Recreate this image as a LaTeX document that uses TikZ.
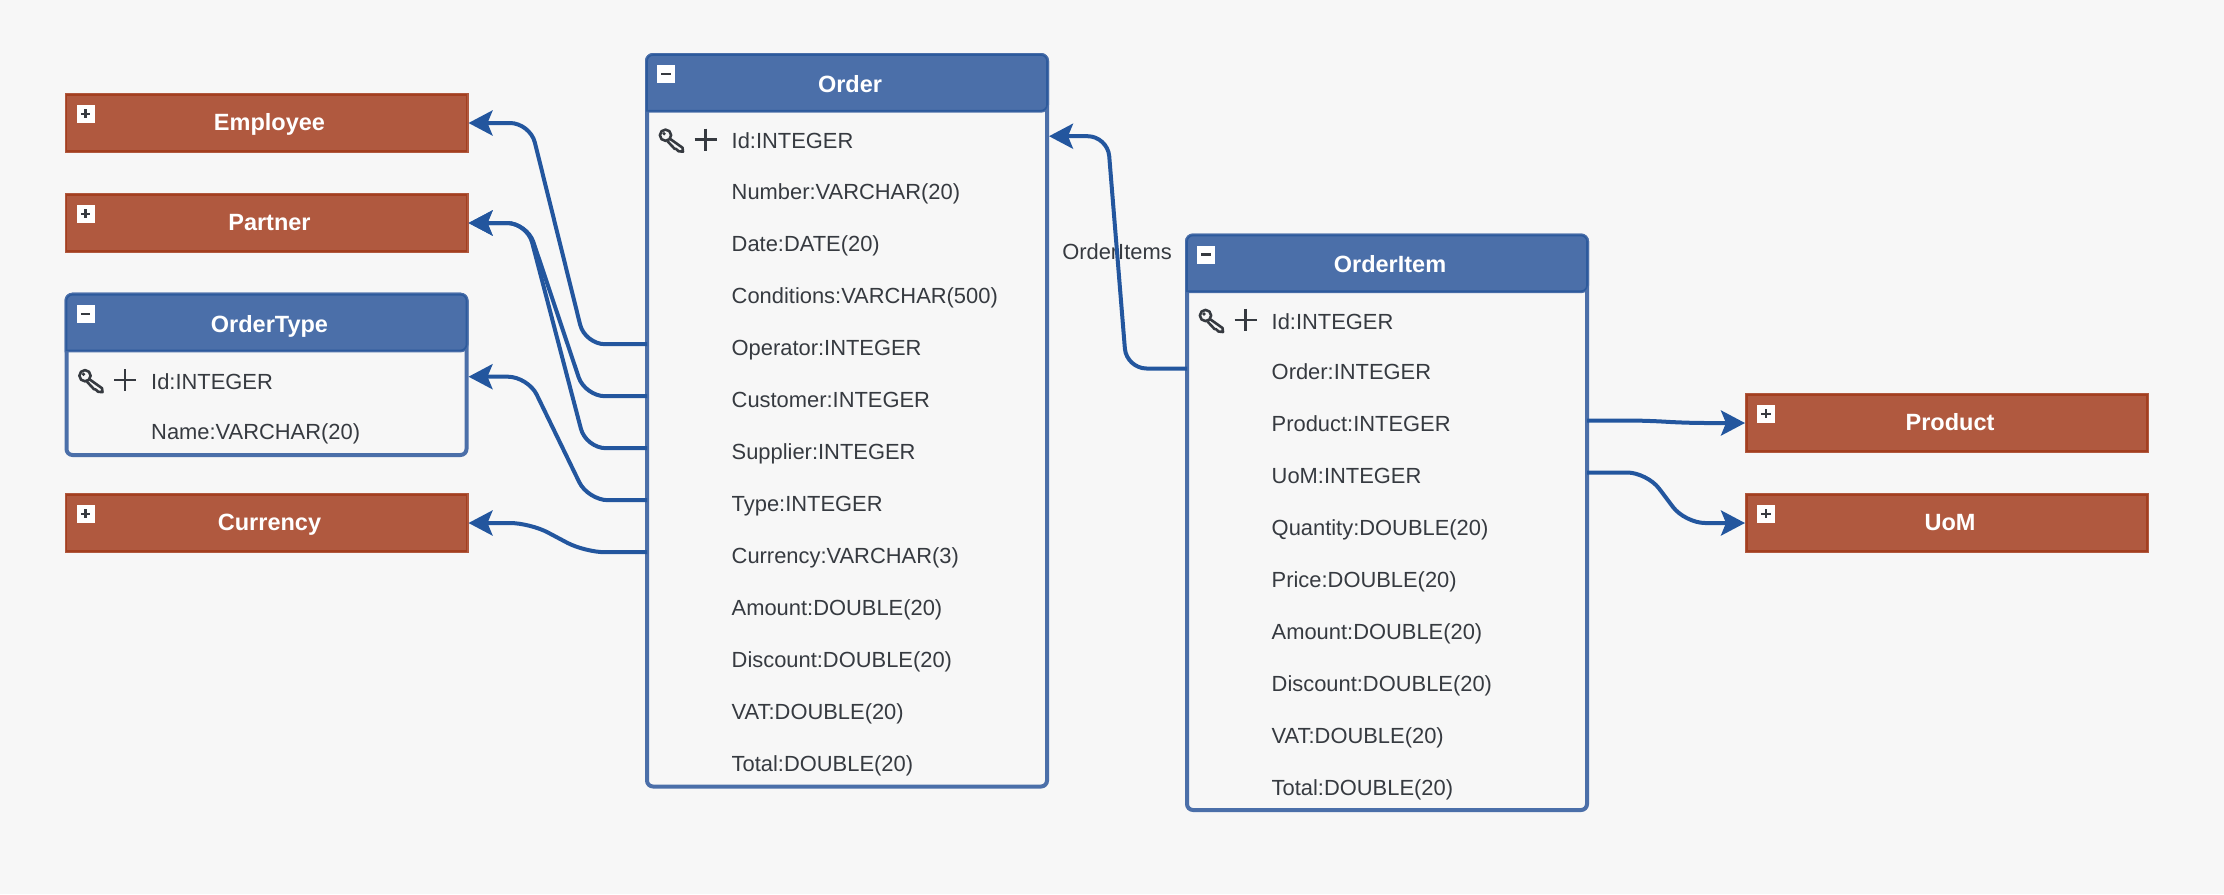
\documentclass[tikz,border=0pt]{standalone}
\usepackage{fontspec}
\setmainfont{Liberation Sans}
\usetikzlibrary{arrows.meta}
\definecolor{pagebg}{HTML}{F7F7F7}
\definecolor{tableblue}{HTML}{4B6FA9}
\definecolor{tabledark}{HTML}{2D5A9C}
\definecolor{boxred}{HTML}{B0593F}
\definecolor{boxdark}{HTML}{A33F20}
\definecolor{edgeblue}{HTML}{23569E}
\definecolor{inkgrey}{HTML}{363A40}
\tikzset{
  tablebox/.style={draw=tableblue,line width=4pt,rounded corners=6pt,minimum width=400pt,inner sep=0pt},
  tablehead/.style={fill=tableblue,draw=tableblue,line width=4pt,postaction={draw=tabledark,line width=1.6pt}},
  closedbox/.style={fill=boxred,draw=boxred,line width=4pt,postaction={draw=boxdark,line width=1.7pt},minimum width=400pt,minimum height=56.5pt,inner sep=0pt},
  titletext/.style={font=\fontsize{23.5pt}{26pt}\bfseries,text=white,inner sep=0pt,text height=16.8pt,text depth=0pt},
  rowtext/.style={font=\fontsize{21.9pt}{26pt}\selectfont,text=inkgrey,anchor=west,inner sep=0pt,text height=21.6pt,text depth=0pt},
  idtext/.style={rowtext,text height=25pt},
  edgetext/.style={font=\fontsize{21.9pt}{26pt}\selectfont,text=inkgrey,inner sep=0pt},
  togglebox/.style={fill=white,minimum size=18pt,inner sep=0pt},
  relation/.style={draw=edgeblue,line width=4pt,rounded corners=20pt,-{Stealth[length=24pt,width=25pt,inset=5pt]}},
  pics/minusmark/.style={code={
    \draw[draw=inkgrey,line width=2.4pt] (-4.7,0) -- (4.7,0);
  }},
  pics/plusmark/.style={code={
    \draw[draw=inkgrey,line width=2.4pt] (-4.7,0) -- (4.7,0) (0,-4.7) -- (0,4.7);
  }},
  pics/keymark/.style={code={
    \draw[draw=inkgrey,line width=2.6pt,line join=round] (18.5,-1) circle (5.6);
    \fill[inkgrey] (17,-2.5) circle (1.8);
    \draw[draw=inkgrey,line width=2.6pt,line join=round] (22.7,2.4) -- (35.5,11.5) -- (36,15.5) -- (31.5,15) -- (29,12.7) -- (27.5,12.5) -- (20.5,5);
    \draw[draw=inkgrey,line width=2.6pt] (47.5,3.3) -- (69.5,3.3) (58.5,-7.7) -- (58.5,14.3);
  }},
}
\begin{document}
\begin{tikzpicture}[x=1pt,y=-1pt]
  \useasboundingbox[fill=pagebg] (0,0) rectangle (2224,894);
  % closed entities, left side
  \node[closedbox] (employee) at (266.5,123) {};
  \node[closedbox] (partner) at (266.5,223) {};
  \node[closedbox] (currency) at (266.5,523) {};
  \node[titletext] (employeeTitle) at (269.5,121.7) {Employee};
  \node[titletext] (partnerTitle) at (269.5,221.7) {Partner};
  \node[titletext] (currencyTitle) at (269.5,521.7) {Currency};
  \node[togglebox] (employeeToggle) at (85.5,113.7) {};
  \node[togglebox] (partnerToggle) at (85.5,213.7) {};
  \node[togglebox] (currencyToggle) at (85.5,513.7) {};
  \pic at (employeeToggle) {plusmark};
  \pic at (partnerToggle) {plusmark};
  \pic at (currencyToggle) {plusmark};
  % closed entities, right side
  \node[closedbox] (product) at (1947,423) {};
  \node[closedbox] (uom) at (1947,523) {};
  \node[titletext] (productTitle) at (1950,421.7) {Product};
  \node[titletext] (uomTitle) at (1950,521.7) {UoM};
  \node[togglebox] (productToggle) at (1766,413.7) {};
  \node[togglebox] (uomToggle) at (1766,513.7) {};
  \pic at (productToggle) {plusmark};
  \pic at (uomToggle) {plusmark};
  % order type table
  \node[tablebox,minimum height=160.3pt] (ordertype) at (266.5,374.85) {};
  \draw[tablehead] (66.5,350.4) [rounded corners=6pt] -- (66.5,294.7) -- (466.5,294.7) -- (466.5,350.4) [sharp corners] -- cycle;
  \node[titletext] (ordertypeTitle) at (269.5,323.7) {OrderType};
  \node[togglebox] (ordertypeToggle) at (85.5,313.7) {};
  \pic at (ordertypeToggle) {minusmark};
  \pic at (66.5,376.7) {keymark};
  \node[idtext] (ordertypeId) at (151,376.7) {Id:INTEGER};
  \node[rowtext] (ordertypeName) at (151,428.7) {Name:VARCHAR(20)};
  % order table
  \node[tablebox,minimum height=731.5pt] (order) at (847,420.75) {};
  \draw[tablehead] (647,110.7) [rounded corners=6pt] -- (647,55) -- (1047,55) -- (1047,110.7) [sharp corners] -- cycle;
  \node[titletext] (orderTitle) at (850,83.7) {Order};
  \node[togglebox] (orderToggle) at (666,74) {};
  \pic at (orderToggle) {minusmark};
  \pic at (647,136.2) {keymark};
  \node[idtext] (orderId) at (731.5,136.2) {Id:INTEGER};
  \node[rowtext] (orderNumber) at (731.5,188.2) {Number:VARCHAR(20)};
  \node[rowtext] (orderDate) at (731.5,240.2) {Date:DATE(20)};
  \node[rowtext] (orderConditions) at (731.5,292.2) {Conditions:VARCHAR(500)};
  \node[rowtext] (orderOperator) at (731.5,344.2) {Operator:INTEGER};
  \node[rowtext] (orderCustomer) at (731.5,396.2) {Customer:INTEGER};
  \node[rowtext] (orderSupplier) at (731.5,448.2) {Supplier:INTEGER};
  \node[rowtext] (orderType) at (731.5,500.2) {Type:INTEGER};
  \node[rowtext] (orderCurrency) at (731.5,552.2) {Currency:VARCHAR(3)};
  \node[rowtext] (orderAmount) at (731.5,604.2) {Amount:DOUBLE(20)};
  \node[rowtext] (orderDiscount) at (731.5,656.2) {Discount:DOUBLE(20)};
  \node[rowtext] (orderVat) at (731.5,708.2) {VAT:DOUBLE(20)};
  \node[rowtext] (orderTotal) at (731.5,760.2) {Total:DOUBLE(20)};
  % order item table
  \node[tablebox,minimum height=574.5pt] (orderitem) at (1387,522.75) {};
  \draw[tablehead] (1187,291.2) [rounded corners=6pt] -- (1187,235.5) -- (1587,235.5) -- (1587,291.2) [sharp corners] -- cycle;
  \node[titletext] (orderitemTitle) at (1390,264) {OrderItem};
  \node[togglebox] (orderitemToggle) at (1206,254.5) {};
  \pic at (orderitemToggle) {minusmark};
  \pic at (1187,316.5) {keymark};
  \node[idtext] (orderitemId) at (1271.5,316.5) {Id:INTEGER};
  \node[rowtext] (orderitemOrder) at (1271.5,368.5) {Order:INTEGER};
  \node[rowtext] (orderitemProduct) at (1271.5,420.5) {Product:INTEGER};
  \node[rowtext] (orderitemUom) at (1271.5,472.5) {UoM:INTEGER};
  \node[rowtext] (orderitemQuantity) at (1271.5,524.5) {Quantity:DOUBLE(20)};
  \node[rowtext] (orderitemPrice) at (1271.5,576.5) {Price:DOUBLE(20)};
  \node[rowtext] (orderitemAmount) at (1271.5,628.5) {Amount:DOUBLE(20)};
  \node[rowtext] (orderitemDiscount) at (1271.5,680.5) {Discount:DOUBLE(20)};
  \node[rowtext] (orderitemVat) at (1271.5,732.5) {VAT:DOUBLE(20)};
  \node[rowtext] (orderitemTotal) at (1271.5,784.5) {Total:DOUBLE(20)};
  % relations
  \node[edgetext] (orderitemsLabel) at (1117,252) {OrderItems};
  \draw[relation] (orderOperator -| order.center) ++(-200,0) -- (585,344.2) -- (530,123) -- (employee.east);
  \draw[relation] (orderCustomer -| order.center) ++(-200,0) -- (585,396.2) -- (527,223) -- (partner.east);
  \draw[relation] (orderSupplier -| order.center) ++(-200,0) -- (586,448.2) -- (527,223) -- (partner.east);
  \draw[relation] (orderType -| order.center) ++(-200,0) -- (588,500.2) -- (528,376.7) -- (ordertype.east |- ordertypeId);
  \draw[relation] (orderCurrency -| order.center) ++(-200,0) -- (585,552.2) -- (530,523) -- (currency.east);
  \draw[relation] (orderitemOrder -| orderitem.center) ++(-200,0) -- (1126.5,368.5) -- (1107.6,136.2) -- (order.east |- orderId);
  \draw[relation] (orderitemProduct -| orderitem.center) ++(200,0) -- (1647,420.5) -- (1685,423) -- (product.west);
  \draw[relation] (orderitemUom -| orderitem.center) ++(200,0) -- (1647,472.5) -- (1685,523) -- (uom.west);
\end{tikzpicture}
\end{document}
